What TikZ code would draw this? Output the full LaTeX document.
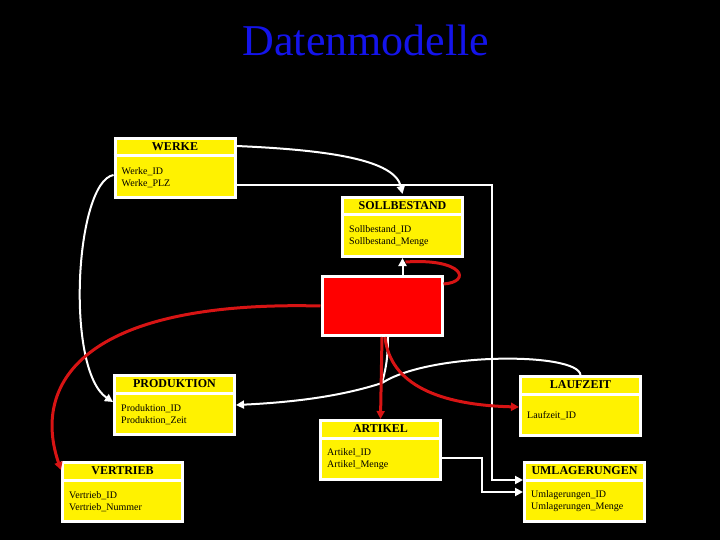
\documentclass[tikz,border=0pt]{standalone}
\usepackage{fontspec}
\setmainfont{Liberation Serif}
\usetikzlibrary{arrows.meta,calc}
\definecolor{linkRed}{RGB}{215,20,20}
\definecolor{titleBlue}{RGB}{20,20,235}

\begin{document}
\begin{tikzpicture}[x=1pt, y=-1pt,
      entity/.style={draw=white, line width=3pt, fill=yellow, minimum width=120pt,
                     minimum height=59pt, inner sep=0pt},
      head/.style={font=\fontsize{12}{14}\selectfont\bfseries, inner sep=0pt},
      attr/.style={font=\fontsize{10}{12}\selectfont, align=left, anchor=west, inner sep=0pt},
      sep/.style={white, line width=3pt},
      wire/.style={white, line width=2pt},
      rwire/.style={linkRed, line width=3pt},
      tip/.style={-{Triangle[length=8pt,width=8pt]}}
    ]
    \fill[black] (0,0) rectangle (720,540);

    \node[font=\fontsize{44}{48}\selectfont, text=titleBlue] (title) at (366,40) {Datenmodelle};

    % entities
    \node[entity] (werke) at (175,168)   {};
    \node[entity] (soll)  at (402.5,227) {};
    \node[entity, fill=red] (rot) at (382,306) {};
    \node[entity] (prod)  at (174.5,405) {};
    \node[entity] (vert)  at (122.5,492) {};
    \node[entity] (art)   at (380.5,450) {};
    \node[entity] (lauf)  at (580.5,406) {};
    \node[entity] (umla)  at (584.5,492) {};

    \draw[sep] ([yshift=-19pt]werke.north west) -- ([yshift=-19pt]werke.north east);
    \draw[sep] ([yshift=-19pt]soll.north west)  -- ([yshift=-19pt]soll.north east);
    \draw[sep] ([yshift=-19pt]prod.north west)  -- ([yshift=-19pt]prod.north east);
    \draw[sep] ([yshift=-19pt]vert.north west)  -- ([yshift=-19pt]vert.north east);
    \draw[sep] ([yshift=-19pt]art.north west)   -- ([yshift=-19pt]art.north east);
    \draw[sep] ([yshift=-19pt]lauf.north west)  -- ([yshift=-19pt]lauf.north east);
    \draw[sep] ([yshift=-19pt]umla.north west)  -- ([yshift=-19pt]umla.north east);

    \node[head] at ([yshift=-10pt]werke.north) {WERKE};
    \node[head] at ([yshift=-10pt]soll.north)  {SOLLBESTAND};
    \node[head] at ([yshift=-10pt]prod.north)  {PRODUKTION};
    \node[head] at ([yshift=-10pt]vert.north)  {VERTRIEB};
    \node[head] at ([yshift=-10pt]art.north)   {ARTIKEL};
    \node[head] at ([yshift=-10pt]lauf.north)  {LAUFZEIT};
    \node[head] at ([yshift=-10pt]umla.north)  {UMLAGERUNGEN};

    \node[attr] at ([xshift=8pt,yshift=-9.5pt]werke.west) {Werke\_ID\\Werke\_PLZ};
    \node[attr] at ([xshift=8pt,yshift=-9.5pt]soll.west)  {Sollbestand\_ID\\Sollbestand\_Menge};
    \node[attr] at ([xshift=8pt,yshift=-9.5pt]prod.west)  {Produktion\_ID\\Produktion\_Zeit};
    \node[attr] at ([xshift=8pt,yshift=-9.5pt]vert.west)  {Vertrieb\_ID\\Vertrieb\_Nummer};
    \node[attr] at ([xshift=8pt,yshift=-9.5pt]art.west)   {Artikel\_ID\\Artikel\_Menge};
    \node[attr] at ([xshift=8pt,yshift=-9.5pt]lauf.west)  {Laufzeit\_ID};
    \node[attr] at ([xshift=8pt,yshift=-9.5pt]umla.west)  {Umlagerungen\_ID\\Umlagerungen\_Menge};

    % white links
    \coordinate (bus)     at (492,185);
    \coordinate (artbend) at (482,458);
    \coordinate (knot)    at (382,383);
    \draw[wire, tip] ([yshift=22pt]werke.east) .. controls (330,150) and (395,160) .. ([yshift=2pt]soll.north);
    \draw[wire, tip] ([yshift=-17pt]werke.east) -- (bus) |- ([yshift=12pt]umla.west);
    \draw[wire, tip] ([yshift=-8pt]art.east) -- (artbend) |- (umla.west);
    \draw[wire, tip] (rot.north -| soll.south) -- (soll.south);
    \draw[wire, tip] ([yshift=-7pt]werke.west) .. controls (75,182) and (65,370) .. ([yshift=3pt]prod.west);
    \draw[wire] (lauf.north) .. controls (578,352) and (430,352) .. (knot);
    \draw[wire] ([xshift=6pt]rot.south) .. controls (388,360) and (385,372) .. (knot);
    \draw[wire, tip] (knot) .. controls (345,395) and (300,402) .. (prod.east);

    % red links
    \draw[rwire] ([yshift=22pt]rot.east) .. controls (472,282) and (464,258) .. ([xshift=3pt,yshift=-4pt]soll.south);
    \draw[rwire, tip] (rot.west) .. controls (80,300) and (32,385) .. ([yshift=22pt]vert.west);
    \draw[rwire, tip] (rot.south) -- (art.north);
    \draw[rwire, tip] ([xshift=3pt]rot.south) .. controls (390,385) and (440,405) .. ([yshift=-1pt]lauf.west);
  \end{tikzpicture}
\end{document}
